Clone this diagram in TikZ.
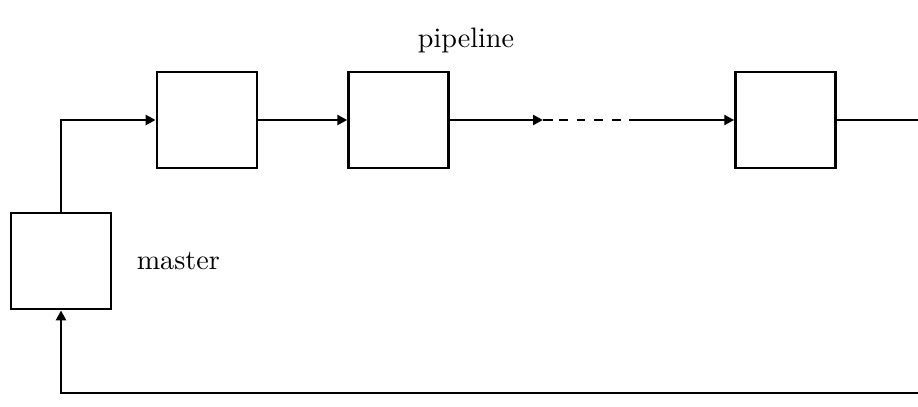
\documentclass[tikz,border=0pt]{standalone}
\usetikzlibrary{arrows.meta,positioning}

\begin{document}
\begin{tikzpicture}[x=0.0125cm,y=-0.0125cm,>={Triangle[length=3.5pt,width=3.5pt]},line width=1pt,node distance=1.11cm,stage node/.style={rectangle,draw,line width=1pt,minimum width=1.25cm,minimum height=1.2cm}]
	\useasboundingbox (0,0) rectangle (918,406);
	\node[stage node] (0) at (61,261) {};
	\node[stage node] (1) at (207,120) {};
	\node[stage node] (2) [right=of 1] {};
	\node[stage node] (3) [right=3.55cm of 2] {};
	\node (p) at (466,40) {pipeline};
	\node (m) [right=0.17cm of 0] {master};

	\coordinate[right=1.16cm of 2.east] (4);
	\coordinate[right=1.29cm of 2.east] (5);
	\coordinate[right=1.36cm of 2.east] (6);
	\coordinate[right=2.25cm of 2.east] (7);
	\coordinate (8) at (918,120);
	\coordinate (9) at (918,393);

	\draw[->] (0) |- (1);
	\draw[->] (1) -- (2);
	\draw[->] (2) -- (4);
	\draw (4) -- (5);
	\draw[dash pattern=on 0.11cm off 0.11cm] (6) -- (7);
	\draw[->] (7) -- (3);
	\draw (3) -- (8);
	\draw[->] (9) -| (0);
\end{tikzpicture}
\end{document}
